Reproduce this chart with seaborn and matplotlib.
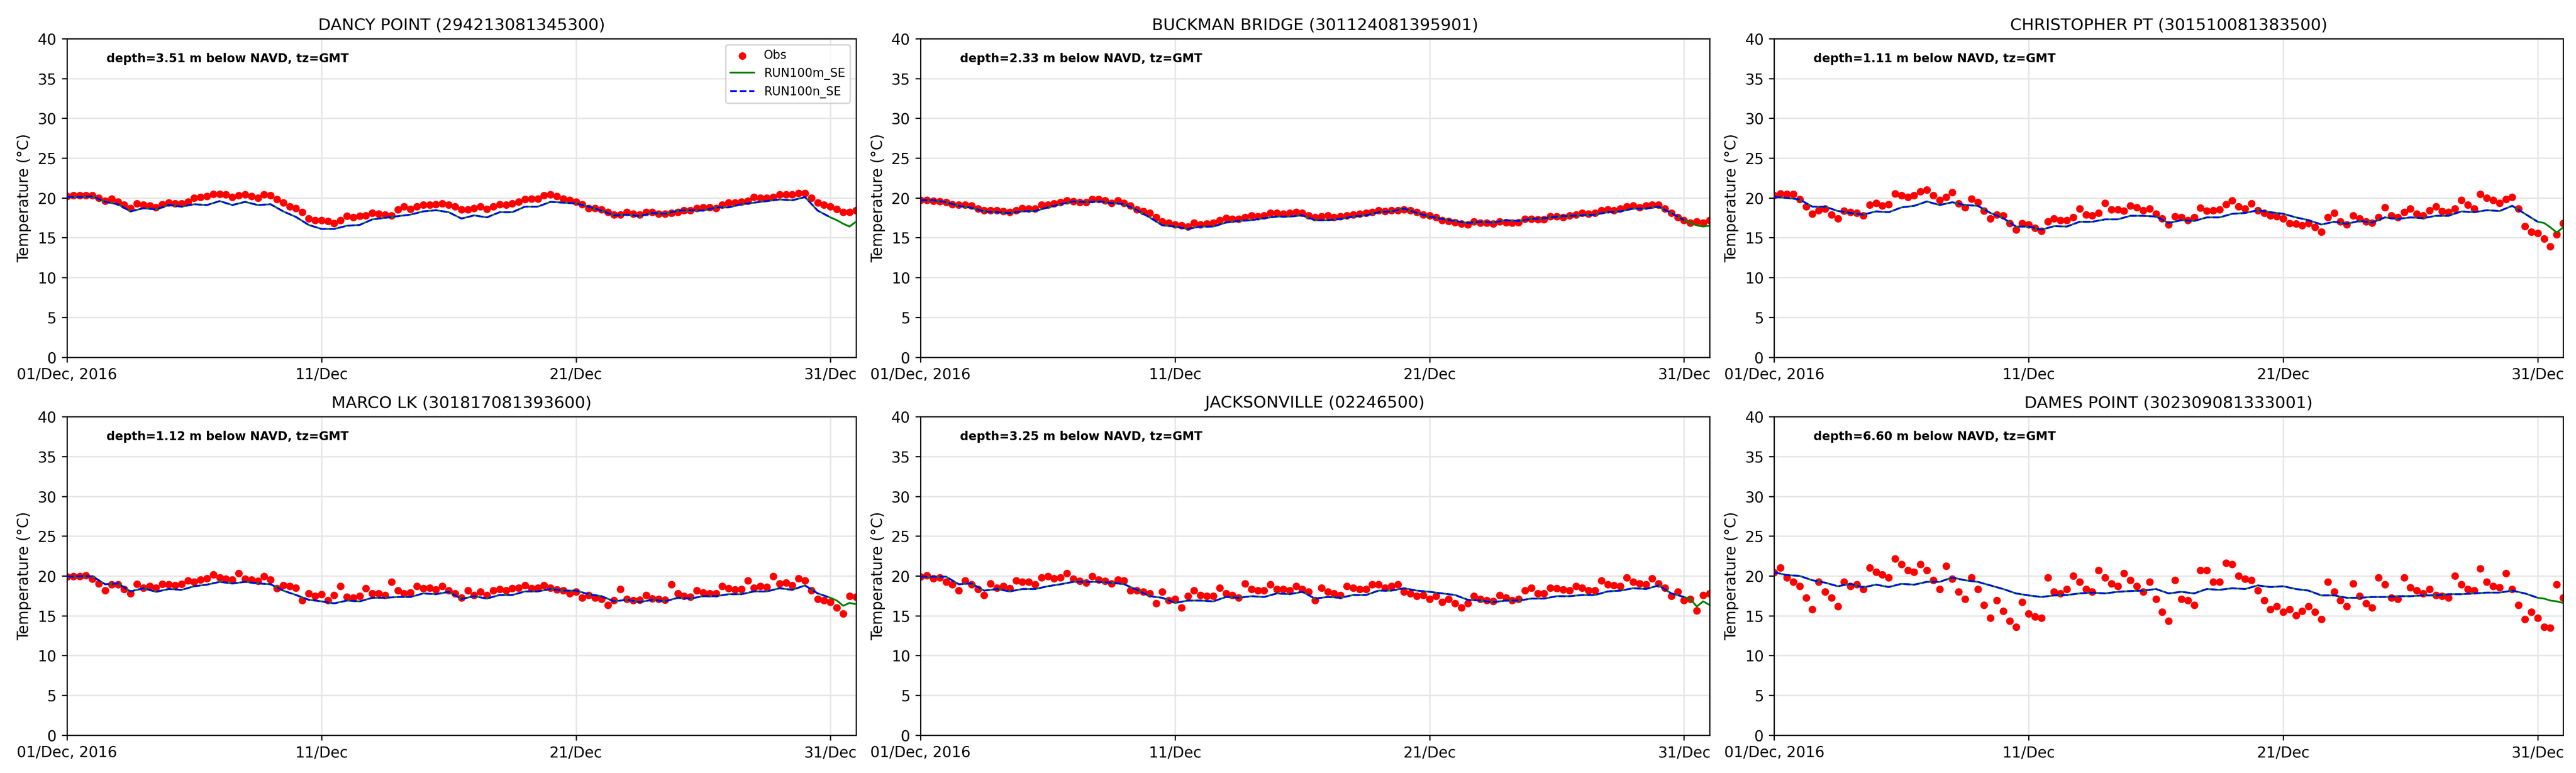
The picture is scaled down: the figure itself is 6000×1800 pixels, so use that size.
import numpy as np
import pandas as pd
import matplotlib
matplotlib.use('Agg')
import matplotlib.pyplot as plt
import seaborn as sns

# station info
stations = ['DANCY POINT (294213081345300)', 'BUCKMAN BRIDGE (301124081395901)',
            'CHRISTOPHER PT (301510081383500)', 'MARCO LK (301817081393600)',
            'JACKSONVILLE (02246500)', 'DAMES POINT (302309081333001)']
depths = [3.51, 2.33, 1.11, 1.12, 3.25, 6.60]

# observed temperature, every 6 h from 01/Dec 00:00 to 01/Jan 00:00
obs_dancy = [
    20.2, 20.3, 20.3, 20.3, 20.3, 20.0, 19.6, 19.9,
    19.5, 19.1, 18.7, 19.3, 19.1, 19.0, 18.8, 19.2,
    19.4, 19.3, 19.3, 19.5, 20.0, 20.1, 20.2, 20.5,
    20.45, 20.4, 20.1, 20.3, 20.4, 20.2, 20.0, 20.4,
    20.3, 19.8, 19.4, 18.9, 18.7, 18.2, 17.4, 17.2,
    17.2, 17.1, 16.8, 17.2, 17.7, 17.55, 17.7, 17.8,
    18.1, 18.0, 17.9, 17.8, 18.55, 18.9, 18.6, 18.9,
    19.1, 19.1, 19.2, 19.3, 19.1, 18.9, 18.55, 18.55,
    18.7, 18.9, 18.6, 18.9, 19.2, 19.1, 19.3, 19.5,
    19.8, 19.9, 19.9, 20.3, 20.4, 20.2, 19.9, 19.7,
    19.5, 19.2, 18.7, 18.7, 18.55, 18.2, 17.9, 17.9,
    18.2, 18.0, 17.9, 18.2, 18.2, 18.0, 18.0, 18.1,
    18.2, 18.4, 18.45, 18.7, 18.8, 18.8, 18.7, 19.1,
    19.4, 19.4, 19.5, 19.6, 20.1, 20.0, 20.0, 20.1,
    20.4, 20.4, 20.4, 20.6, 20.6, 20.0, 19.4, 19.1,
    18.9, 18.6, 18.2, 18.2, 18.4]
obs_buckman = [
    19.7, 19.7, 19.6, 19.55, 19.45, 19.2, 19.1, 19.1,
    19.0, 18.65, 18.45, 18.45, 18.4, 18.3, 18.2, 18.45,
    18.7, 18.65, 18.65, 19.1, 19.1, 19.3, 19.45, 19.65,
    19.55, 19.45, 19.45, 19.8, 19.8, 19.65, 19.35, 19.65,
    19.35, 19.0, 18.55, 18.3, 18.1, 17.55, 17.0, 16.85,
    16.65, 16.55, 16.4, 16.85, 16.65, 16.75, 16.85, 17.2,
    17.45, 17.35, 17.35, 17.55, 17.8, 17.65, 17.8, 18.1,
    18.1, 18.0, 18.1, 18.2, 18.1, 17.8, 17.55, 17.65,
    17.75, 17.55, 17.65, 17.8, 17.9, 18.0, 18.1, 18.2,
    18.4, 18.3, 18.45, 18.45, 18.55, 18.4, 18.2, 17.9,
    17.75, 17.55, 17.2, 17.1, 16.9, 16.75, 16.65, 17.0,
    16.85, 16.85, 16.75, 17.0, 16.9, 16.85, 16.9, 17.35,
    17.35, 17.3, 17.3, 17.65, 17.65, 17.55, 17.75, 17.9,
    18.1, 18.0, 18.1, 18.45, 18.55, 18.4, 18.65, 18.9,
    19.0, 18.8, 19.0, 19.1, 19.1, 18.65, 18.1, 17.55,
    17.2, 16.85, 17.0, 16.85, 17.2]
obs_christopher = [
    20.3, 20.55, 20.45, 20.45, 19.8, 18.9, 18.0, 18.45,
    18.65, 17.9, 17.4, 18.35, 18.2, 18.1, 17.75, 19.1,
    19.35, 19.0, 19.2, 20.55, 20.3, 20.1, 20.3, 20.8,
    21.0, 20.3, 19.7, 20.1, 20.7, 19.3, 18.8, 19.9,
    19.45, 18.35, 17.4, 17.9, 17.75, 16.8, 16.0, 16.8,
    16.65, 16.2, 15.85, 17.0, 17.4, 17.2, 17.2, 17.55,
    18.65, 17.9, 17.75, 18.1, 19.35, 18.55, 18.55, 18.35,
    19.0, 18.8, 18.45, 18.65, 18.0, 17.4, 16.65, 17.65,
    17.55, 17.2, 17.55, 18.75, 18.35, 18.45, 18.55, 19.2,
    19.65, 18.9, 18.65, 19.3, 18.45, 18.1, 17.8, 17.65,
    17.4, 16.8, 16.75, 16.55, 16.8, 16.3, 15.75, 17.55,
    18.1, 17.0, 16.65, 17.75, 17.4, 17.0, 16.85, 17.55,
    18.8, 17.75, 17.55, 18.2, 18.65, 18.0, 17.75, 18.45,
    18.9, 18.3, 18.2, 18.65, 19.7, 19.1, 18.65, 20.45,
    20.0, 19.7, 19.35, 19.8, 20.1, 18.65, 16.45, 15.75,
    15.55, 14.85, 13.9, 15.4, 16.8]
obs_marco = [
    19.9, 19.95, 19.95, 20.05, 19.6, 19.05, 18.15, 18.9,
    18.9, 18.35, 17.8, 18.95, 18.5, 18.7, 18.5, 18.95,
    18.9, 18.8, 18.95, 19.4, 19.25, 19.5, 19.7, 20.15,
    19.8, 19.6, 19.5, 20.3, 19.6, 19.5, 19.35, 19.95,
    19.5, 18.45, 18.8, 18.7, 18.5, 16.9, 17.8, 17.45,
    17.7, 16.9, 17.6, 18.7, 17.35, 17.25, 17.45, 18.45,
    17.8, 17.8, 17.6, 19.25, 18.15, 17.8, 17.9, 18.7,
    18.45, 18.5, 18.25, 18.7, 18.15, 17.8, 17.25, 18.15,
    17.6, 18.0, 17.6, 18.15, 18.35, 18.15, 18.45, 18.5,
    18.8, 18.45, 18.5, 18.8, 18.5, 18.25, 18.15, 17.8,
    18.0, 17.25, 17.6, 17.25, 17.1, 16.35, 16.9, 18.35,
    17.1, 16.9, 17.0, 17.55, 17.15, 17.1, 17.0, 18.9,
    17.8, 17.45, 17.35, 18.15, 17.9, 17.8, 17.8, 18.7,
    18.45, 18.25, 18.35, 19.4, 18.5, 18.7, 18.6, 19.95,
    19.05, 19.15, 18.8, 19.7, 19.4, 18.15, 17.1, 16.9,
    16.7, 16.0, 15.25, 17.45, 17.35]
obs_jax = [
    19.9, 20.05, 19.7, 19.8, 19.25, 18.9, 18.15, 19.4,
    18.9, 18.35, 17.6, 19.05, 18.5, 18.7, 18.45, 19.4,
    19.25, 19.25, 18.9, 19.8, 19.95, 19.7, 19.8, 20.3,
    19.6, 19.35, 19.15, 19.95, 19.5, 19.35, 19.05, 19.5,
    19.4, 18.15, 18.15, 18.0, 17.8, 16.55, 18.0, 16.9,
    17.1, 16.0, 17.45, 18.15, 17.6, 17.45, 17.45, 18.5,
    17.8, 17.55, 17.25, 19.05, 18.35, 18.15, 18.15, 18.9,
    18.35, 18.35, 18.15, 18.7, 18.35, 18.0, 16.9, 18.5,
    18.0, 17.8, 17.6, 18.7, 18.5, 18.35, 18.35, 18.9,
    18.9, 18.5, 18.7, 18.9, 18.0, 17.8, 17.45, 17.6,
    17.1, 17.45, 16.7, 17.1, 16.55, 16.0, 16.55, 17.45,
    17.1, 16.9, 16.8, 17.6, 17.25, 16.9, 17.1, 18.15,
    18.5, 17.8, 17.8, 18.5, 18.45, 18.25, 18.15, 18.7,
    18.5, 18.15, 18.15, 19.4, 18.9, 18.8, 18.7, 19.8,
    19.25, 19.05, 18.9, 19.7, 19.05, 18.5, 17.45, 18.0,
    16.9, 17.1, 15.65, 17.6, 17.8]
obs_dames = [
    20.45, 21.0, 19.8, 19.25, 18.7, 17.25, 15.8, 19.25,
    18.0, 17.25, 16.15, 19.25, 18.7, 18.9, 18.35, 21.05,
    20.5, 20.15, 19.8, 22.15, 21.45, 20.7, 20.5, 21.45,
    20.7, 19.45, 18.35, 21.25, 19.6, 18.0, 17.1, 19.8,
    18.35, 16.35, 14.7, 16.9, 15.6, 14.35, 13.6, 16.7,
    15.25, 14.9, 14.7, 19.8, 18.0, 17.8, 18.35, 20.0,
    19.25, 18.35, 18.0, 20.7, 19.8, 19.05, 18.7, 20.35,
    19.45, 18.7, 18.0, 19.25, 17.1, 15.45, 14.35, 19.45,
    17.1, 16.9, 16.35, 20.7, 20.7, 19.25, 19.25, 21.6,
    21.45, 20.0, 19.6, 19.45, 18.15, 16.9, 15.8, 16.15,
    15.45, 15.8, 15.05, 15.6, 16.15, 15.45, 14.55, 19.25,
    18.0, 16.9, 16.15, 19.05, 17.45, 16.55, 16.0, 19.8,
    18.9, 17.25, 17.1, 19.8, 18.55, 18.15, 17.8, 18.35,
    17.6, 17.45, 17.25, 20.0, 18.9, 18.35, 18.15, 20.9,
    19.25, 18.7, 18.55, 20.35, 18.35, 16.35, 14.55, 15.45,
    14.7, 13.6, 13.45, 18.9, 17.25]

# model temperature, every 12 h from 01/Dec 00:00 to 31/Dec 00:00 (both runs)
mod_dancy = [
    20.1, 20.1, 20.2, 19.5, 19.2, 18.3, 18.7, 18.55,
    19.1, 18.9, 19.2, 19.1, 19.6, 19.1, 19.5, 19.1,
    19.2, 18.3, 17.6, 16.6, 16.1, 16.1, 16.5, 16.6,
    17.3, 17.5, 17.7, 17.9, 18.3, 18.45, 18.2, 17.4,
    17.8, 17.55, 18.2, 18.2, 18.9, 18.9, 19.5, 19.4,
    19.3, 18.9, 18.4, 17.8, 17.9, 17.7, 18.1, 18.0,
    18.4, 18.45, 18.4, 18.8, 18.8, 19.2, 19.4, 19.6,
    19.8, 19.7, 20.1, 18.4, 17.55]
mod_buckman = [
    19.7, 19.7, 19.45, 19.0, 18.75, 18.3, 18.2, 18.1,
    18.3, 18.35, 18.8, 19.2, 19.55, 19.45, 19.55, 19.35,
    19.2, 18.45, 17.55, 16.55, 16.4, 16.1, 16.4, 16.4,
    16.9, 17.1, 17.2, 17.45, 17.65, 17.65, 17.8, 17.2,
    17.2, 17.35, 17.65, 17.8, 18.2, 18.3, 18.65, 18.1,
    17.65, 17.35, 17.1, 16.85, 17.0, 16.9, 17.2, 17.1,
    17.35, 17.45, 17.65, 17.75, 17.8, 17.9, 18.2, 18.3,
    18.65, 18.65, 18.9, 18.1, 17.2]
mod_christopher = [
    20.1, 20.0, 19.8, 18.9, 18.9, 18.35, 18.1, 17.9,
    18.3, 18.2, 18.8, 19.0, 19.55, 19.1, 19.45, 19.1,
    19.0, 18.1, 17.45, 16.4, 16.4, 16.0, 16.45, 16.4,
    17.0, 17.0, 17.3, 17.3, 17.75, 17.75, 17.65, 16.85,
    17.2, 17.1, 17.55, 17.55, 18.0, 18.1, 18.45, 18.2,
    18.0, 17.55, 17.2, 16.65, 17.0, 16.75, 17.1, 16.9,
    17.55, 17.35, 17.55, 17.45, 17.75, 17.75, 18.3, 18.2,
    18.45, 18.35, 19.0, 18.0, 17.0]
mod_marco = [
    19.9, 19.95, 19.95, 18.95, 19.05, 18.05, 18.45, 18.0,
    18.35, 18.25, 18.7, 18.9, 19.25, 19.05, 19.25, 19.05,
    18.95, 18.15, 17.6, 17.0, 16.8, 16.55, 16.9, 16.8,
    17.25, 17.25, 17.35, 17.35, 17.8, 17.7, 18.0, 17.1,
    17.45, 17.15, 17.6, 17.6, 18.05, 18.05, 18.35, 18.15,
    18.15, 17.7, 17.45, 16.8, 17.0, 16.7, 17.0, 16.8,
    17.25, 17.15, 17.45, 17.45, 17.7, 17.7, 18.05, 18.05,
    18.45, 18.25, 18.8, 17.8, 17.25]
mod_jax = [
    19.9, 19.9, 19.9, 18.95, 19.05, 18.15, 18.35, 18.05,
    18.35, 18.35, 18.7, 18.95, 19.25, 19.25, 19.25, 19.15,
    18.95, 18.25, 17.45, 17.25, 16.6, 16.9, 16.9, 16.8,
    17.35, 17.25, 17.45, 17.35, 17.8, 17.7, 18.0, 17.15,
    17.35, 17.25, 17.6, 17.6, 18.15, 18.15, 18.45, 18.15,
    18.0, 17.8, 17.6, 17.0, 16.9, 16.7, 16.9, 16.9,
    17.15, 17.15, 17.45, 17.45, 17.6, 17.6, 18.05, 18.15,
    18.45, 18.35, 18.8, 17.8, 17.35]
mod_dames = [
    20.45, 20.1, 20.0, 19.45, 19.15, 18.7, 19.0, 18.55,
    18.9, 18.6, 19.0, 18.9, 19.25, 19.25, 19.8, 19.45,
    19.25, 18.8, 18.35, 17.8, 17.55, 17.35, 17.55, 17.6,
    17.8, 17.9, 17.8, 18.0, 18.1, 18.15, 18.35, 17.8,
    18.0, 17.8, 18.35, 18.25, 18.45, 18.35, 18.8, 18.6,
    18.7, 18.35, 18.15, 17.55, 17.55, 17.25, 17.25, 17.35,
    17.35, 17.45, 17.45, 17.55, 17.55, 17.7, 17.7, 17.8,
    17.9, 17.9, 18.15, 17.8, 17.25]

# RUN100m_SE runs on for the last day (every 6 h after 31/Dec 00:00)
tail_dancy = [17.2, 16.75, 16.4, 17.0]
tail_buckman = [16.85, 16.55, 16.4, 16.5]
tail_christopher = [16.85, 16.3, 15.65, 16.3]
tail_marco = [16.9, 16.25, 16.6, 16.45]
tail_jax = [17.1, 16.15, 16.8, 16.35]
tail_dames = [17.15, 16.9, 16.8, 16.6]

obs_all = [obs_dancy, obs_buckman, obs_christopher, obs_marco, obs_jax, obs_dames]
mod_all = [mod_dancy, mod_buckman, mod_christopher, mod_marco, mod_jax, mod_dames]
tail_all = [tail_dancy, tail_buckman, tail_christopher, tail_marco, tail_jax, tail_dames]

xtick_labels = ['01/Dec, 2016', '11/Dec', '21/Dec', '31/Dec']

start = pd.Timestamp('2016-12-01')
obs_time = pd.date_range(start, periods=125, freq='6h')
mod_time = pd.date_range(start, periods=61, freq='12h')
tail_time = pd.date_range('2016-12-31 06:00', periods=4, freq='6h')
mod_m_time = mod_time.append(tail_time)

sns.set_style('ticks', {'axes.edgecolor': 'black', 'xtick.color': 'black',
                        'ytick.color': 'black', 'text.color': 'black',
                        'axes.labelcolor': 'black'})
plt.rcParams['font.family'] = ['DejaVu Sans']

fig, axes = plt.subplots(2, 3, figsize=(24, 7.2))
fig.subplots_adjust(left=0.026, right=0.995, top=0.95, bottom=0.049,
                    wspace=0.082, hspace=0.187)

for i, ax in enumerate(axes.flat):
    sns.scatterplot(x=obs_time, y=obs_all[i], ax=ax, color='red', s=26,
                    linewidth=0, label='Obs', zorder=2)
    sns.lineplot(x=mod_m_time, y=mod_all[i] + tail_all[i], ax=ax, color='green',
                 linewidth=1.2, label='RUN100m_SE', zorder=3)
    sns.lineplot(x=mod_time, y=mod_all[i], ax=ax, color='blue', linewidth=1.2,
                 linestyle='--', label='RUN100n_SE', zorder=4)

    ax.set_xlim(start, pd.Timestamp('2017-01-01'))
    ax.set_ylim(0, 40)
    ax.set_yticks(np.arange(0, 41, 5))
    ax.set_xticks(pd.to_datetime(['2016-12-01', '2016-12-11', '2016-12-21', '2016-12-31']))
    ax.set_xticklabels(xtick_labels)
    ax.grid(True, color='#e6e6e6', linewidth=1.0)
    ax.set_axisbelow(True)
    ax.set_xlabel('')
    ax.set_ylabel('Temperature (°C)')
    ax.set_title(stations[i], fontsize=11)
    ax.text(0.05, 0.937, 'depth=%.2f m below NAVD, tz=GMT' % depths[i],
            transform=ax.transAxes, fontsize=8, fontweight='bold', va='center')
    if i == 0:
        ax.legend(loc='upper right', fontsize=8)
    elif ax.get_legend() is not None:
        ax.get_legend().remove()

fig.savefig('out.png', dpi=250)
